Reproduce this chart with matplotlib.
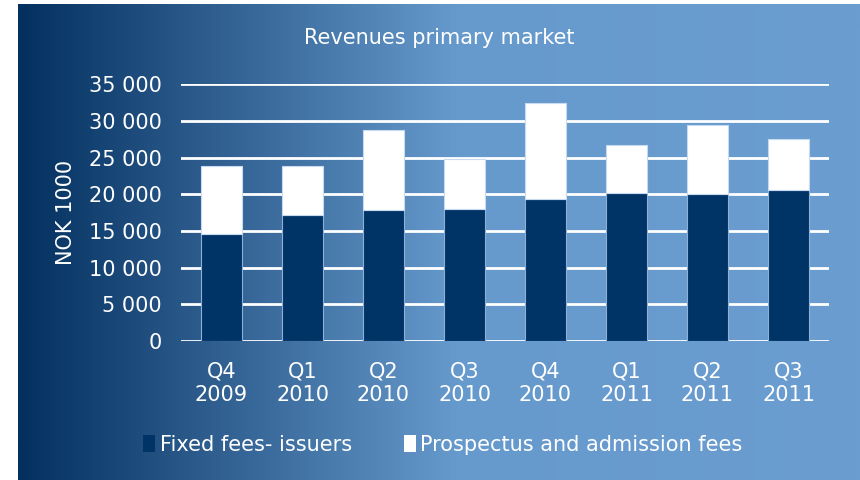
import matplotlib
matplotlib.use('Agg')
import matplotlib.pyplot as plt
import numpy as np
from matplotlib.colors import LinearSegmentedColormap

# Data (NOK 1000)
quarters = ['Q4\n2009', 'Q1\n2010', 'Q2\n2010', 'Q3\n2010',
            'Q4\n2010', 'Q1\n2011', 'Q2\n2011', 'Q3\n2011']
fixed_fees = [14600, 17200, 17800, 18000, 19400, 20200, 20000, 20600]
prospectus_fees = [9300, 6700, 11000, 6800, 13000, 6500, 9400, 7000]
y_ticks = [0, 5000, 10000, 15000, 20000, 25000, 30000, 35000]

fig = plt.figure(figsize=(8.6, 4.8), dpi=100)
fig.patch.set_facecolor('white')

# gradient background panel, dark navy on the left fading to light blue
bg = fig.add_axes([0, 0, 1, 1], zorder=0)
bg.set_xlim(0, 860)
bg.set_ylim(480, 0)
bg.axis('off')
grad_cmap = LinearSegmentedColormap.from_list(
    'bg', [(0.0, '#03305f'), (0.52, '#6699cc'), (1.0, '#6b9dd0')])
grad = np.linspace(0, 1, 400).reshape(1, -1)
bg.imshow(grad, cmap=grad_cmap, aspect='auto', extent=(18, 860, 480, 4))

ax = fig.add_axes([181 / 860, 139 / 480, 648 / 860, 256.7 / 480], zorder=1)
ax.patch.set_alpha(0)

x = np.arange(len(quarters))
ax.bar(x, fixed_fees, width=0.5, color='#003366', edgecolor='#8fb0d6',
       linewidth=0.8, label='Fixed fees- issuers', zorder=3)
ax.bar(x, prospectus_fees, width=0.5, bottom=fixed_fees, color='white',
       edgecolor='#c8daf0', linewidth=0.8,
       label='Prospectus and admission fees', zorder=3)

ax.set_xlim(-0.5, len(quarters) - 0.5)
ax.set_ylim(0, 35000)
ax.set_yticks(y_ticks)
ax.set_yticklabels([f'{v:,}'.replace(',', ' ') for v in y_ticks])
ax.set_xticks(x)
ax.set_xticklabels(quarters, linespacing=1.2)
ax.tick_params(axis='both', length=0, labelsize=15, colors='white')
ax.tick_params(axis='y', pad=14)
ax.tick_params(axis='x', pad=15)

ax.grid(axis='y', color='white', linewidth=2, zorder=1)
ax.set_axisbelow(True)
for s in ax.spines.values():
    s.set_visible(False)

ax.set_ylabel('NOK 1000', color='white', fontsize=15, labelpad=9)

fig.text(439 / 860, 1 - 38 / 480, 'Revenues primary market', color='white',
         fontsize=15, ha='center', va='center')

leg = ax.legend(loc='center', bbox_to_anchor=(0.404, -0.405), ncol=2,
                frameon=False, fontsize=15, labelcolor='white',
                handlelength=0.6, handleheight=0.9, handletextpad=0.2,
                columnspacing=2.5)
for h in leg.legend_handles:
    h.set_edgecolor('none')

plt.savefig('out.png', dpi=100)
plt.close()
